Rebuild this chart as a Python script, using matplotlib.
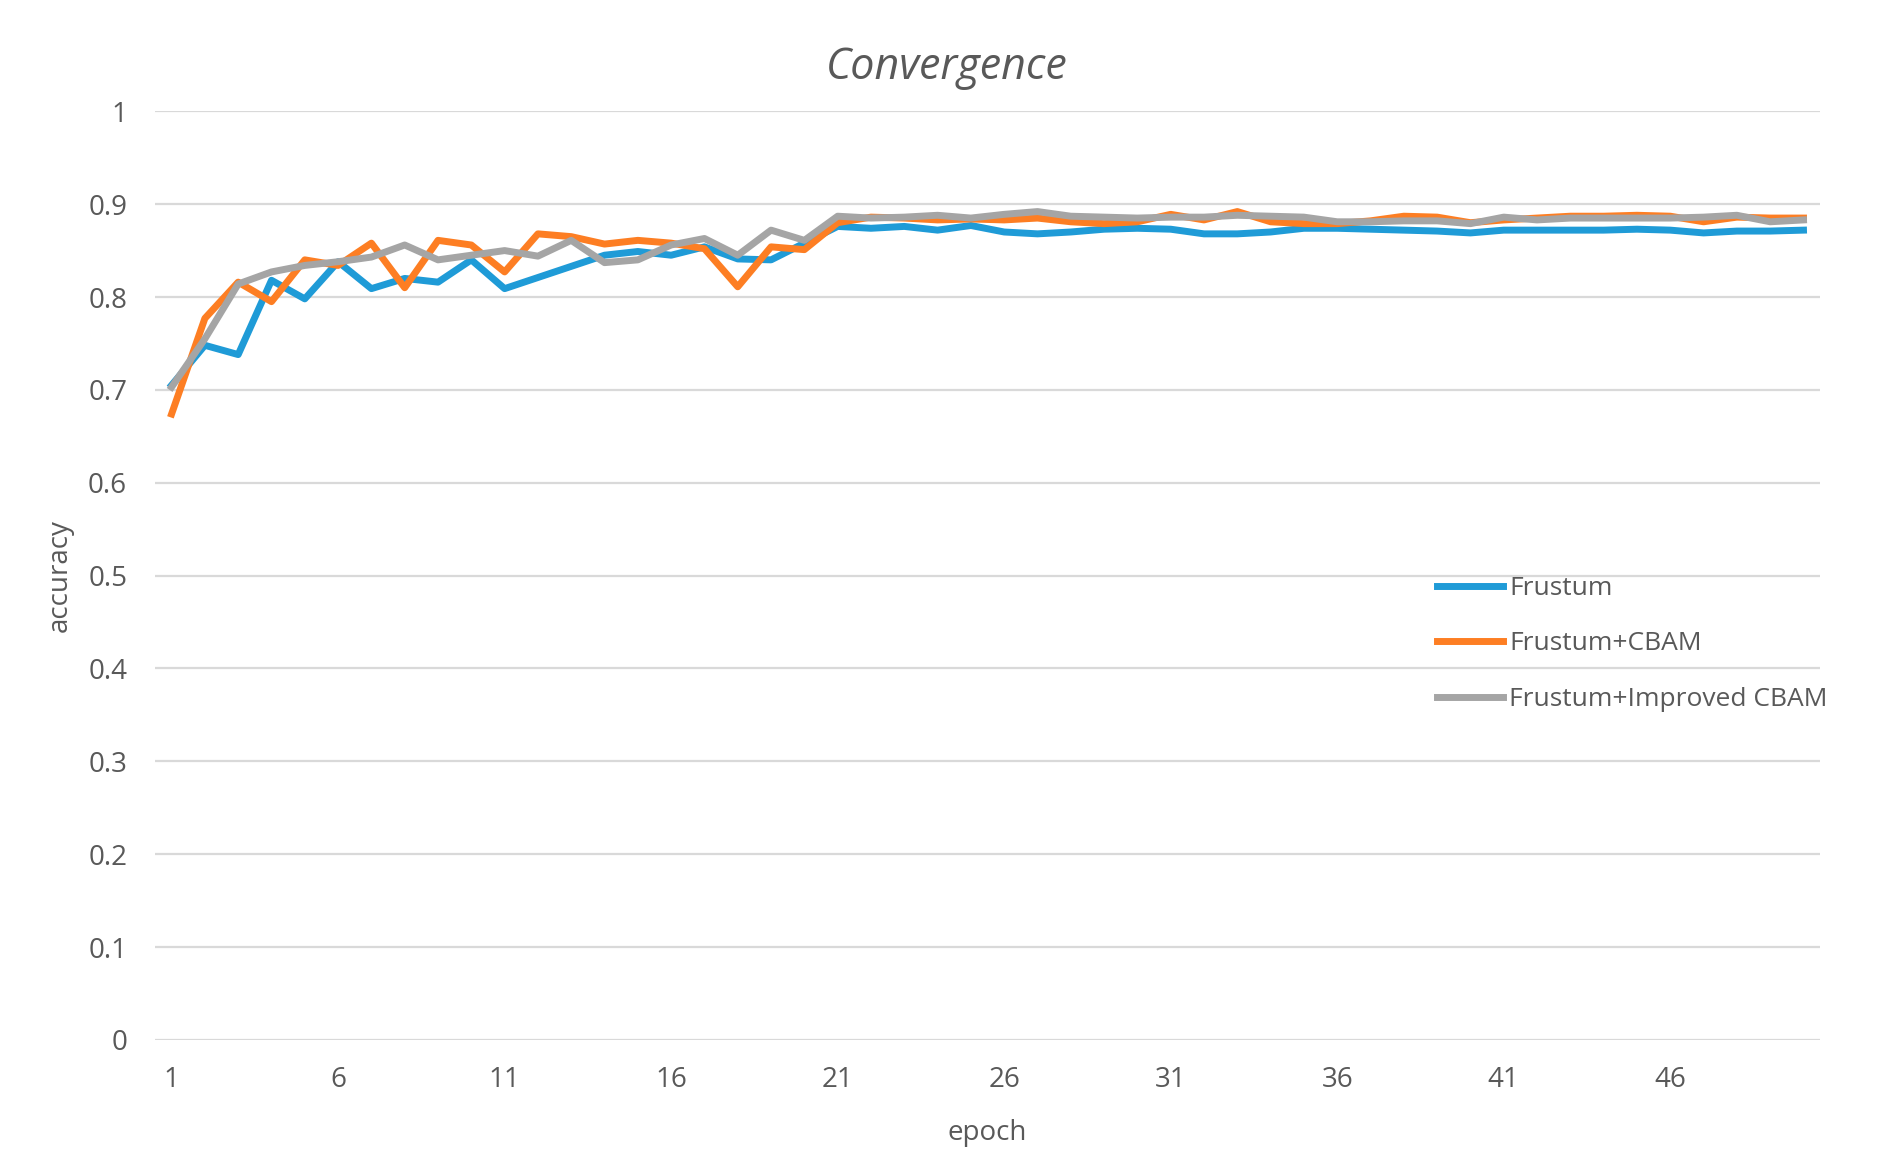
import matplotlib
matplotlib.use('Agg')
import matplotlib.pyplot as plt
import numpy as np

plt.rcParams['font.family'] = ['Open Sans', 'DejaVu Sans']

epochs = list(range(1, 51))

# accuracy per epoch
frustum = [0.705, 0.748, 0.738, 0.818, 0.798, 0.838, 0.809, 0.820, 0.816, 0.840,
           0.809, 0.821, 0.833, 0.845, 0.849, 0.845, 0.854, 0.841, 0.840, 0.858,
           0.876, 0.874, 0.876, 0.872, 0.877, 0.870, 0.868, 0.870, 0.873, 0.874,
           0.873, 0.868, 0.868, 0.870, 0.874, 0.874, 0.873, 0.872, 0.871, 0.869,
           0.872, 0.872, 0.872, 0.872, 0.873, 0.872, 0.869, 0.871, 0.871, 0.872]

frustum_cbam = [0.674, 0.777, 0.816, 0.795, 0.840, 0.834, 0.858, 0.810, 0.861, 0.856,
                0.827, 0.868, 0.865, 0.857, 0.861, 0.858, 0.852, 0.811, 0.854, 0.851,
                0.880, 0.886, 0.885, 0.883, 0.884, 0.883, 0.885, 0.881, 0.879, 0.881,
                0.889, 0.883, 0.892, 0.881, 0.879, 0.879, 0.882, 0.887, 0.886, 0.880,
                0.883, 0.885, 0.887, 0.887, 0.888, 0.887, 0.881, 0.886, 0.885, 0.885]

frustum_improved = [0.703, 0.755, 0.814, 0.827, 0.834, 0.838, 0.843, 0.856, 0.840, 0.845,
                    0.850, 0.844, 0.861, 0.837, 0.840, 0.856, 0.863, 0.845, 0.872, 0.861,
                    0.887, 0.885, 0.886, 0.888, 0.885, 0.889, 0.892, 0.887, 0.886, 0.885,
                    0.886, 0.886, 0.888, 0.887, 0.886, 0.881, 0.881, 0.882, 0.882, 0.879,
                    0.886, 0.883, 0.885, 0.885, 0.885, 0.885, 0.886, 0.888, 0.881, 0.883]

labels = ['Frustum', 'Frustum+CBAM', 'Frustum+Improved CBAM']
colours = ['#1f9bd7', '#fd7e23', '#a5a5a5']
text_col = '#595959'

fig = plt.figure(figsize=(18.94, 11.59), dpi=100)
ax = fig.add_axes([0.0818, 0.1027, 0.961 - 0.0818, 0.904 - 0.1027])

for data, lbl, c in zip([frustum, frustum_cbam, frustum_improved], labels, colours):
    ax.plot(epochs, data, color=c, lw=5, label=lbl, solid_joinstyle='round')

ax.set_xlim(0.5, 50.5)
ax.set_ylim(0, 1)
ax.set_yticks(np.arange(0, 1.01, 0.1))
ax.set_yticklabels(['0', '0.1', '0.2', '0.3', '0.4', '0.5', '0.6', '0.7', '0.8', '0.9', '1'])
ax.set_xticks(epochs[::5])

ax.grid(axis='y', color='#d9d9d9', lw=1.6)
ax.set_axisbelow(True)
for s in ax.spines.values():
    s.set_visible(False)
ax.tick_params(axis='both', length=0, labelsize=20, colors=text_col)
ax.tick_params(axis='y', pad=20)
ax.tick_params(axis='x', pad=19)

ax.set_xlabel('epoch', fontsize=20, color=text_col, labelpad=18)
ax.set_ylabel('accuracy', fontsize=20, color=text_col, labelpad=10)
fig.text(0.5, 1 - 68 / 1159, 'Convergence', fontsize=31, color=text_col,
         style='italic', ha='center', va='center')

fig.legend(loc='center left', bbox_to_anchor=(1437 / 1894, 1 - 644 / 1159),
           frameon=False, fontsize=19, labelcolor=text_col, borderpad=0,
           borderaxespad=0, handlelength=2.5, handletextpad=0.23, labelspacing=1.15)

plt.savefig('out.png', dpi=100)
